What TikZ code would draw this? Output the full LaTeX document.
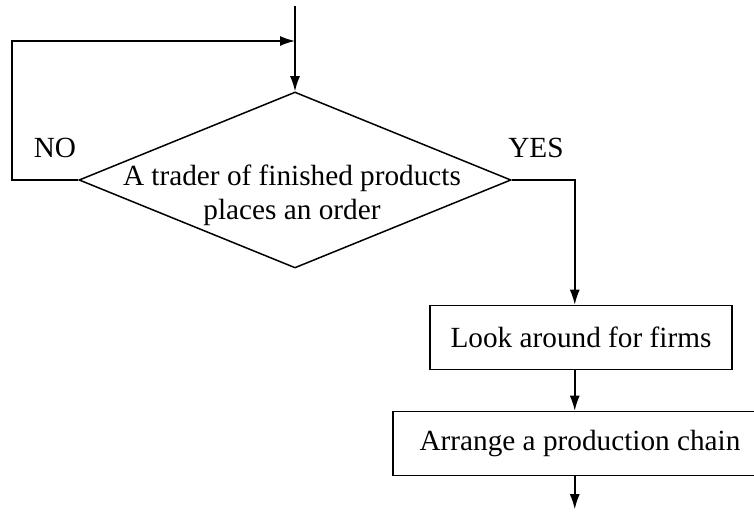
\documentclass[tikz,border=0pt]{standalone}
\usepackage{fontspec}
\setmainfont{Liberation Serif}
\usetikzlibrary{positioning,arrows.meta,calc,shapes.geometric}

\begin{document}
\begin{tikzpicture}[
      x=0.4pt, y=-0.4pt,
      font=\fontsize{11.7}{13.6}\selectfont,
      line width=0.6pt,
      choice/.style={draw, diamond, inner sep=0pt,
                     minimum width=172.8pt, minimum height=70.4pt},
      box/.style={draw, inner sep=0pt, minimum height=25.6pt},
      arr/.style={-{Latex[length=6pt,width=4pt]}}
    ]
    \useasboundingbox (0,0) rectangle (754,517);
    \clip (0,0) rectangle (754,517);

    \node[choice] (order) at (295,180) {};
    \node[align=center] (ordertxt) at (292,195)
      {A trader of finished products\\places an order};
    \node (no) at (55,148) {NO};
    \node (yes) at (536,148) {YES};

    \node[box, minimum width=120.8pt] (look) at (581,337.5) {Look around for firms};
    \node[box, minimum width=149.6pt] (chain) at (580,443.5) {Arrange a production chain};

    \coordinate (start) at (295,6);
    \coordinate (join) at (295,41);
    \coordinate (turn) at ($(order.east)+(63,0)$);
    \coordinate (out) at ($(turn |- chain.south)+(0,33)$);

    \draw[arr] (start) -- (order.north);
    \draw[arr] (order.west) -- ++(-66,0) |- (join);
    \draw[arr] (order.east) -- (turn) -- (turn |- look.north);
    \draw[arr] (turn |- look.south) -- (turn |- chain.north);
    \draw[arr] (turn |- chain.south) -- (out);
  \end{tikzpicture}
\end{document}
